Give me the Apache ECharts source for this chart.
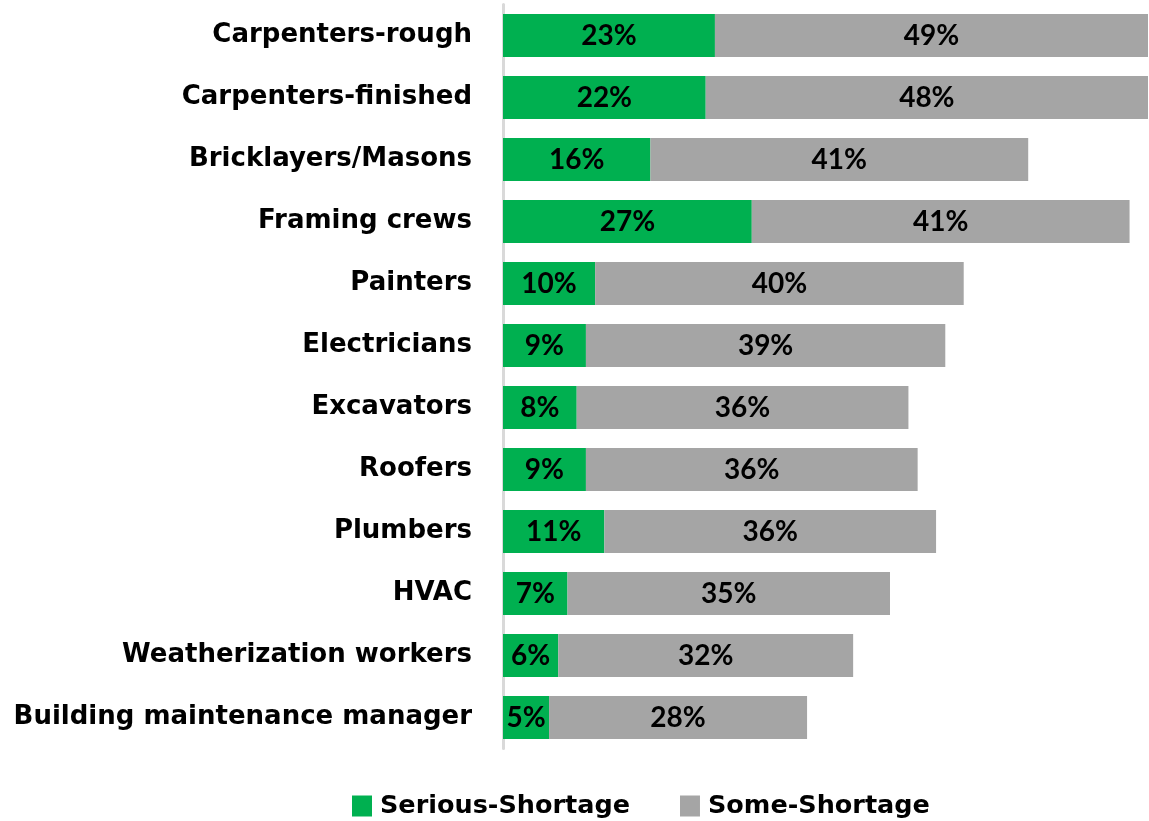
<!DOCTYPE html>
<html><head><meta charset="utf-8">
<script src="https://cdn.jsdelivr.net/npm/echarts@6/dist/echarts.min.js"></script>
<style>html,body{margin:0;padding:0;background:#fff}#c{width:1149px;height:821px}</style>
</head><body><div id="c"></div>
<script>
const categories = ["Carpenters-rough","Carpenters-finished","Bricklayers/Masons","Framing crews","Painters","Electricians","Excavators","Roofers","Plumbers","HVAC","Weatherization workers","Building maintenance manager"];
const serious = [23,22,16,27,10,9,8,9,11,7,6,5];
const some = [49,48,41,41,40,39,36,36,36,35,32,28];
const seriesNames = ["Serious-Shortage","Some-Shortage"];

const chart = echarts.init(document.getElementById('c'));
const catFont = {fontFamily:'DejaVu Sans', fontWeight:'bold', fontSize:26, color:'#000'};
const lblFont = {fontFamily:'Lato', fontWeight:'bold', fontSize:28, color:'#000'};
chart.setOption({
  animation:false,
  grid:{left:503, top:4.5, width:645, height:744, containLabel:false},
  legend:{
    left:347, top:788, itemWidth:20, itemHeight:21, itemGap:50, icon:'rect',
    textStyle:Object.assign({}, catFont, {fontSize:25.5, padding:[0,0,0,3]}),
    data:seriesNames
  },
  xAxis:{type:'value', min:0, max:70, show:false},
  yAxis:{type:'category', inverse:true, data:categories,
    axisLine:{show:true, lineStyle:{color:'#d9d9d9', width:3}},
    axisTick:{show:false},
    axisLabel:Object.assign({margin:31}, catFont)
  },
  series:[
    {name:seriesNames[0], type:'bar', stack:'s', data:serious, barCategoryGap:'31%', clip:true,
     itemStyle:{color:'#00b050'},
     label:Object.assign({show:true, position:'inside', formatter:'{c}%'}, lblFont)},
    {name:seriesNames[1], type:'bar', stack:'s', data:some, clip:true,
     itemStyle:{color:'#a5a5a5'},
     label:Object.assign({show:true, position:'inside', formatter:'{c}%'}, lblFont)}
  ]
});
</script></body></html>
